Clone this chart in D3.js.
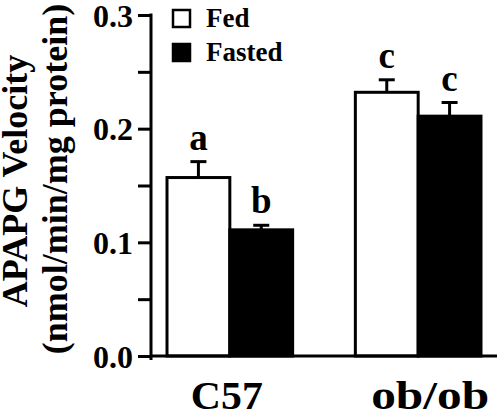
<!DOCTYPE html>
<html><head><meta charset="utf-8">
<script src="https://cdn.jsdelivr.net/npm/d3@7"></script>
<style>
html,body{margin:0;padding:0;background:#fff;}
</style></head>
<body>
<svg id="chart" width="500" height="415"></svg>
<script>
const categories = ["C57", "ob/ob"];
const seriesNames = ["Fed", "Fasted"];
const fedValues = [0.157, 0.232];
const fedErrors = [0.014, 0.011];
const fastedValues = [0.111, 0.211];
const fastedErrors = [0.004, 0.012];
const fedLetters = ["a", "c"];
const fastedLetters = ["b", "c"];
const majorTicks = [0.0, 0.1, 0.2, 0.3];
const minorTicks = [0.05, 0.15, 0.25];
const yLabel1 = "APAPG Velocity";
const yLabel2 = "(nmol/min/mg protein)";

const FONT = "Tinos, 'Times New Roman', Times, 'Liberation Serif', 'DejaVu Serif', serif";
const svg = d3.select("#chart").attr("font-family", FONT).attr("font-weight", "bold");
const mLeft = 151, mRight = 497, mTop = 15, mBottom = 356;

const y = d3.scaleLinear().domain([0, 0.3]).range([mBottom, mTop]);
const x0 = d3.scaleBand().domain(categories).range([mLeft, mRight]).paddingInner(0.333).paddingOuter(0.085);
const x1 = d3.scaleBand().domain(seriesNames).range([0, x0.bandwidth()]);

const data = [];
categories.forEach((c, i) => {
  data.push({cat: c, s: "Fed", v: fedValues[i], e: fedErrors[i], l: fedLetters[i]});
  data.push({cat: c, s: "Fasted", v: fastedValues[i], e: fastedErrors[i], l: fastedLetters[i]});
});
const fill = {Fed: "#fff", Fasted: "#000"};

// bars
const g = svg.append("g");
g.selectAll("rect.bar").data(data).join("rect")
  .attr("class", "bar")
  .attr("x", d => x0(d.cat) + x1(d.s))
  .attr("y", d => y(d.v))
  .attr("width", x1.bandwidth())
  .attr("height", d => y(0) - y(d.v))
  .attr("fill", d => fill[d.s])
  .attr("stroke", "#000").attr("stroke-width", 3);

// error bars
const cx = d => x0(d.cat) + x1(d.s) + x1.bandwidth() / 2;
g.selectAll("line.err").data(data).join("line")
  .attr("class", "err")
  .attr("x1", cx).attr("x2", cx)
  .attr("y1", d => y(d.v)).attr("y2", d => y(d.v + d.e))
  .attr("stroke", "#000").attr("stroke-width", 3);
g.selectAll("line.cap").data(data).join("line")
  .attr("class", "cap")
  .attr("x1", d => cx(d) - 8).attr("x2", d => cx(d) + 8)
  .attr("y1", d => y(d.v + d.e)).attr("y2", d => y(d.v + d.e))
  .attr("stroke", "#000").attr("stroke-width", 3);
g.selectAll("text.letter").data(data).join("text")
  .attr("class", "letter")
  .attr("x", cx).attr("y", d => y(d.v + d.e) - 12)
  .attr("text-anchor", "middle").attr("font-size", 37)
  .text(d => d.l);

// y axis
const yAxis = d3.axisLeft(y).tickValues(majorTicks).tickFormat(d3.format(".1f")).tickSize(13).tickPadding(5);
const ya = svg.append("g").attr("transform", `translate(${mLeft},0)`).call(yAxis);
ya.attr("font-family", null);
ya.select(".domain").remove();
ya.selectAll(".tick line").attr("stroke", "#000").attr("stroke-width", 3);
ya.selectAll(".tick text").attr("font-size", 32).attr("fill", "#000").attr("dy", "0.35em");
const yMinor = d3.axisLeft(y).tickValues(minorTicks).tickSize(13).tickFormat("");
const ym = svg.append("g").attr("transform", `translate(${mLeft},0)`).call(yMinor);
ym.select(".domain").remove();
ym.selectAll(".tick line").attr("stroke", "#000").attr("stroke-width", 3);
svg.append("line").attr("x1", mLeft).attr("x2", mLeft).attr("y1", y(0.3) - 1.5).attr("y2", y(0) + 4)
  .attr("stroke", "#000").attr("stroke-width", 3);

// x axis
svg.append("line").attr("x1", mLeft).attr("x2", mRight).attr("y1", y(0)).attr("y2", y(0))
  .attr("stroke", "#000").attr("stroke-width", 3);
const xAxis = d3.axisBottom(x0).tickSize(0).tickPadding(0);
const xa = svg.append("g").attr("transform", `translate(0,${mBottom})`).call(xAxis);
xa.attr("font-family", null);
xa.select(".domain").remove();
xa.selectAll(".tick text").attr("font-size", 41).attr("fill", "#000").attr("dy", null).attr("y", 53)
  .attr("dx", (d, i) => i === 0 ? -3 : 12)
  .attr("textLength", (d, i) => i === 0 ? 72 : 118)
  .attr("lengthAdjust", "spacingAndGlyphs");

// y labels
svg.append("text").attr("transform", "translate(27,181) rotate(-90)")
  .attr("text-anchor", "middle").attr("font-size", 36).text(yLabel1);
svg.append("text").attr("transform", "translate(67,179) rotate(-90)")
  .attr("text-anchor", "middle").attr("font-size", 36).text(yLabel2);

// legend
const legend = svg.append("g");
seriesNames.forEach((s, i) => {
  legend.append("rect").attr("x", 173).attr("y", 10 + i * 34).attr("width", 17).attr("height", 17)
    .attr("fill", fill[s]).attr("stroke", "#000").attr("stroke-width", 2.5);
  legend.append("text").attr("x", 206).attr("y", 27 + i * 34).attr("font-size", 27).text(s);
});
</script>
</body></html>
